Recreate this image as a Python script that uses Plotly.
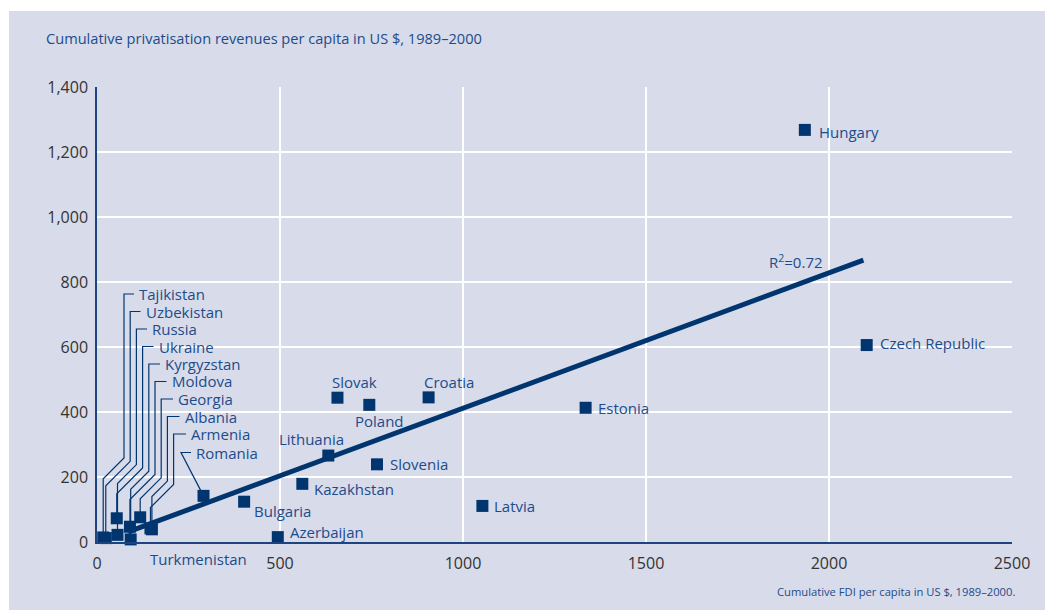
import plotly.graph_objects as go

# ---------------- data ----------------
countries = ["Hungary", "Czech Republic", "Estonia", "Latvia", "Croatia", "Slovak",
             "Poland", "Lithuania", "Slovenia", "Kazakhstan", "Bulgaria", "Azerbaijan",
             "Turkmenistan", "Romania",
             "Tajikistan", "Uzbekistan", "Russia", "Ukraine", "Kyrgyzstan", "Moldova",
             "Georgia", "Albania", "Armenia"]
fdi = [1934, 2103, 1335, 1053, 906, 657,
       744, 632, 765, 561, 402, 494,
       154, 291,
       17, 24, 56, 54, 92, 90,
       118, 150, 146]
privatisation = [1268, 606, 413, 111, 445, 444,
                 422, 266, 239, 179, 124, 15,
                 -4, 142,
                 14, 12, 22, 73, 8, 47,
                 76, 39, 42]
trend_x = [85, 2094]
trend_y = [31, 867]
r2_text = "R<sup>2</sup>=0.72"
x_ticks = [0, 500, 1000, 1500, 2000, 2500]
y_ticks = [0, 200, 400, 600, 800, 1000, 1200, 1400]
title_text = "Cumulative privatisation revenues per capita in US $, 1989–2000"
xaxis_text = "Cumulative FDI per capita in US $, 1989–2000."

# ---------------- styling / layout ----------------
OFF = 8  # page body margin offset in the browser
W, H = 1053 - OFF, 610 - OFF
L, R, T, B = 97 - OFF, 41, 87 - OFF, 68
X_RANGE = [0, 2500]
Y_RANGE = [0, 1400]
NAVY = "#00356f"
TEXT_BLUE = "#1c4c8c"
BG = "#d8dbe9"
FONT = "Open Sans"

PW = W - L - R
PH = H - T - B


# helpers work in page pixels (reference picture coordinates)
def d2px(x):
    return OFF + L + (x - X_RANGE[0]) / (X_RANGE[1] - X_RANGE[0]) * PW


def d2py(y):
    return OFF + T + PH - (y - Y_RANGE[0]) / (Y_RANGE[1] - Y_RANGE[0]) * PH


def px2d(px):
    return X_RANGE[0] + (px - OFF - L) / PW * (X_RANGE[1] - X_RANGE[0])


def py2d(py):
    return Y_RANGE[0] + (OFF + T + PH - py) / PH * (Y_RANGE[1] - Y_RANGE[0])


def px2paper(px):
    return (px - OFF - L) / PW


def py2paper(py):
    return (OFF + T + PH - py) / PH


# label offsets in pixels (dx to text left, dy to text centre; +dy = down)
label_offsets = {
    "Hungary": (12, 2), "Czech Republic": (11, -2), "Estonia": (10, 0),
    "Latvia": (10, 0), "Croatia": (-7, -15), "Slovak": (-7, -16),
    "Poland": (-16, 16), "Lithuania": (-51, -17), "Slovenia": (11, 0),
    "Kazakhstan": (10, 5), "Bulgaria": (8, 9), "Azerbaijan": (10, -5),
    "Turkmenistan": (-5, 16),
}
cluster = ["Tajikistan", "Uzbekistan", "Russia", "Ukraine", "Kyrgyzstan", "Moldova",
           "Georgia", "Albania", "Armenia"]

fig = go.Figure()

# panel background
fig.add_shape(type="rect", xref="paper", yref="paper",
              x0=px2paper(9), x1=px2paper(1060), y0=py2paper(11), y1=py2paper(620),
              fillcolor=BG, line=dict(width=0), layer="below")

# leader lines
lx_lines, ly_lines = [], []
annotations = []
for i, name in enumerate(cluster):
    k = countries.index(name)
    mx = d2px(fdi[k])
    my = d2py(privatisation[k])
    ly = 294 + 17.5 * i
    xv = 124 + 6.2 * i
    tx = 137 + 6.5 * i
    ya = 458 + 3.3 * i
    yb = ya + (xv - mx)
    pts = [(tx - 3, ly), (xv, ly), (xv, ya), (mx, yb), (mx, my)]
    for p in pts:
        lx_lines.append(px2d(p[0]))
        ly_lines.append(py2d(p[1]))
    lx_lines.append(None)
    ly_lines.append(None)
    annotations.append(dict(x=px2paper(tx), y=py2paper(ly), xref="paper", yref="paper",
                            text=name, showarrow=False, xanchor="left", yanchor="middle",
                            font=dict(family=FONT, size=15, color=TEXT_BLUE)))

# Romania
k = countries.index("Romania")
mx, my = d2px(fdi[k]), d2py(privatisation[k])
r_ly, r_tx = 452.5, 194
for p in [(r_tx - 3, r_ly), (r_tx - 13, r_ly), (mx, my)]:
    lx_lines.append(px2d(p[0]))
    ly_lines.append(py2d(p[1]))
lx_lines.append(None)
ly_lines.append(None)
annotations.append(dict(x=px2paper(r_tx), y=py2paper(r_ly), xref="paper", yref="paper",
                        text="Romania", showarrow=False, xanchor="left", yanchor="middle",
                        font=dict(family=FONT, size=15, color=TEXT_BLUE)))

fig.add_trace(go.Scatter(x=lx_lines, y=ly_lines, mode="lines",
                         line=dict(color=NAVY, width=1.2), cliponaxis=False,
                         hoverinfo="skip", showlegend=False))

# trend line
fig.add_trace(go.Scatter(x=trend_x, y=trend_y, mode="lines",
                         line=dict(color=NAVY, width=5), showlegend=False,
                         hoverinfo="skip"))

# markers
fig.add_trace(go.Scatter(x=fdi, y=privatisation, mode="markers", text=countries,
                         marker=dict(symbol="square", size=12, color=NAVY),
                         cliponaxis=False, showlegend=False))

# point labels (placed in paper space so nothing outside the axis range gets hidden)
for name, (dx, dy) in label_offsets.items():
    k = countries.index(name)
    annotations.append(dict(x=px2paper(d2px(fdi[k]) + dx),
                            y=py2paper(d2py(privatisation[k]) + dy),
                            xref="paper", yref="paper", text=name,
                            showarrow=False, xanchor="left", yanchor="middle",
                            font=dict(family=FONT, size=15, color=TEXT_BLUE)))

# R^2 label
annotations.append(dict(x=px2paper(825), y=py2paper(261), xref="paper", yref="paper",
                        text=r2_text, showarrow=False, xanchor="right", yanchor="middle",
                        font=dict(family=FONT, size=15, color=TEXT_BLUE)))

# title and axis title
annotations.append(dict(x=px2paper(44), y=py2paper(38), xref="paper", yref="paper",
                        text=title_text, showarrow=False, xanchor="left", yanchor="middle",
                        font=dict(family=FONT, size=14.6, color=TEXT_BLUE)))
annotations.append(dict(x=px2paper(1017), y=py2paper(591), xref="paper", yref="paper",
                        text=xaxis_text, showarrow=False, xanchor="right", yanchor="middle",
                        font=dict(family=FONT, size=11.2, color=TEXT_BLUE)))

fig.update_layout(
    width=W, height=H,
    margin=dict(l=L, r=R, t=T, b=B, pad=0),
    paper_bgcolor="white",
    plot_bgcolor=BG,
    showlegend=False,
    annotations=annotations,
    font=dict(family=FONT),
    xaxis=dict(range=X_RANGE, tickvals=x_ticks, ticktext=[str(v) for v in x_ticks],
               showgrid=True, gridcolor="white", gridwidth=2, zeroline=False,
               showline=True, linecolor="#1d4380", linewidth=1.5,
               ticks="", ticklabelstandoff=6,
               tickfont=dict(family=FONT, size=16, color="#333333")),
    yaxis=dict(range=Y_RANGE, tickvals=y_ticks, ticktext=[f"{v:,}" for v in y_ticks],
               showgrid=True, gridcolor="white", gridwidth=2, zeroline=False,
               showline=True, linecolor="#1d4380", linewidth=1.5,
               ticks="", ticklabelstandoff=4,
               tickfont=dict(family=FONT, size=16, color="#333333")),
)

fig.write_html("out.html")
